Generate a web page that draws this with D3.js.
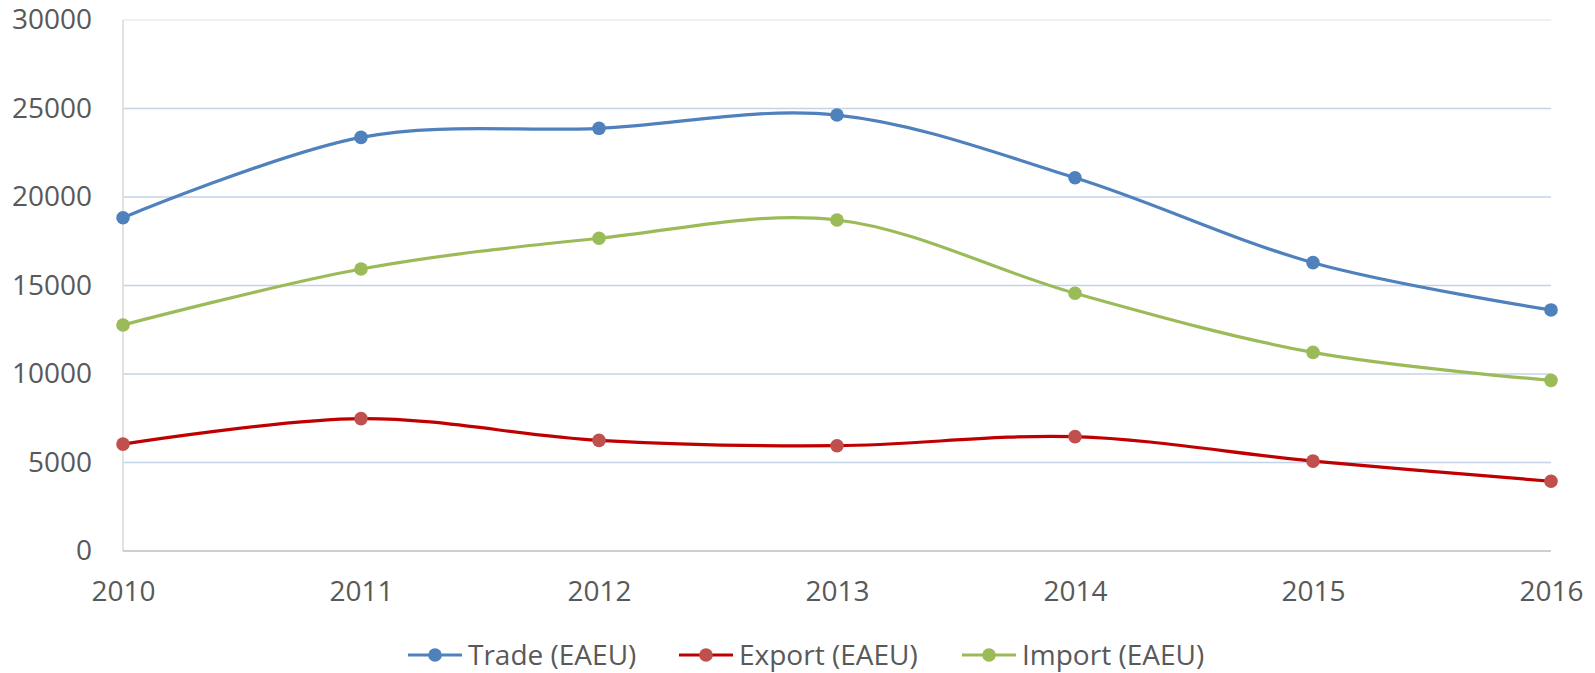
<!DOCTYPE html>
<html>
<head>
<meta charset="utf-8">
<script src="https://cdn.jsdelivr.net/npm/d3@7"></script>
<style>
  html, body { margin: 0; padding: 0; background: #fff; }
  text { font-family: "Open Sans", sans-serif; fill: #595959; }
</style>
</head>
<body>
<svg id="chart" width="1595" height="673"></svg>
<script>
const years = ["2010", "2011", "2012", "2013", "2014", "2015", "2016"];
const trade  = [18830, 23370, 23880, 24630, 21090, 16290, 13620];
const exportV = [6040, 7480, 6250, 5950, 6460, 5080, 3940];
const importV = [12770, 15930, 17670, 18700, 14560, 11220, 9640];
const yTicks = [0, 5000, 10000, 15000, 20000, 25000, 30000];
const seriesNames = ["Trade (EAEU)", "Export (EAEU)", "Import (EAEU)"];

const series = [
  { name: seriesNames[0], values: trade,   line: "#4f81bd", marker: "#4f81bd" },
  { name: seriesNames[1], values: exportV, line: "#c00000", marker: "#c0504d" },
  { name: seriesNames[2], values: importV, line: "#9bbb59", marker: "#9bbb59" }
];

const svg = d3.select("#chart");
const pLeft = 123, pRight = 1551, pTop = 20, pBottom = 551;

const x = d3.scalePoint().domain(years).range([pLeft, pRight]);
const y = d3.scaleLinear().domain([0, 30000]).range([pBottom, pTop]);

// gridlines
svg.append("g").selectAll("line").data(yTicks.filter(d => d > 0)).join("line")
  .attr("x1", pLeft).attr("x2", pRight)
  .attr("y1", d => y(d)).attr("y2", d => y(d))
  .attr("stroke", d => d === 30000 ? "#e6edf6" : "#c3d3e8")
  .attr("stroke-width", 1.5);

// axes lines
svg.append("line").attr("x1", pLeft).attr("x2", pLeft).attr("y1", pTop).attr("y2", pBottom)
  .attr("stroke", "#d9d9d9").attr("stroke-width", 1.5);
svg.append("line").attr("x1", pLeft).attr("x2", pRight).attr("y1", pBottom).attr("y2", pBottom)
  .attr("stroke", "#bfbfbf").attr("stroke-width", 1.5);

// y tick labels
const yAxis = d3.axisLeft(y).tickValues(yTicks).tickSize(0).tickPadding(31).tickFormat(d3.format("d"));
const gy = svg.append("g").attr("transform", `translate(${pLeft},0)`).call(yAxis);
gy.select(".domain").remove();
gy.selectAll("text").style("font-size", "28px").attr("fill", "#595959").style("font-family", "'Open Sans', sans-serif");

// x tick labels
const xAxis = d3.axisBottom(x).tickSize(0).tickPadding(30);
const gx = svg.append("g").attr("transform", `translate(0,${pBottom})`).call(xAxis);
gx.select(".domain").remove();
gx.selectAll("text").style("font-size", "28px").attr("fill", "#595959").style("font-family", "'Open Sans', sans-serif");

// lines
const lineGen = d3.line()
  .x((d, i) => x(years[i]))
  .y(d => y(d))
  .curve(d3.curveCardinal.tension(0));

series.forEach(s => {
  svg.append("path").datum(s.values)
    .attr("d", lineGen)
    .attr("fill", "none")
    .attr("stroke", s.line)
    .attr("stroke-width", 3.2)
    .attr("stroke-linecap", "round");
});
series.forEach(s => {
  svg.append("g").selectAll("circle").data(s.values).join("circle")
    .attr("cx", (d, i) => x(years[i]))
    .attr("cy", d => y(d))
    .attr("r", 6.8)
    .attr("fill", s.marker);
});

// legend
const legendX = [408, 679, 962];
const legendY = 655;
series.forEach((s, i) => {
  const g = svg.append("g").attr("transform", `translate(${legendX[i]},${legendY})`);
  g.append("line").attr("x1", 0).attr("x2", 54).attr("y1", 0).attr("y2", 0)
    .attr("stroke", s.line).attr("stroke-width", 3.2);
  g.append("circle").attr("cx", 27).attr("cy", 0).attr("r", 6.8).attr("fill", s.marker);
  g.append("text").attr("x", 60).attr("y", 10).style("font-size", "28px").text(s.name);
});
</script>
</body>
</html>
